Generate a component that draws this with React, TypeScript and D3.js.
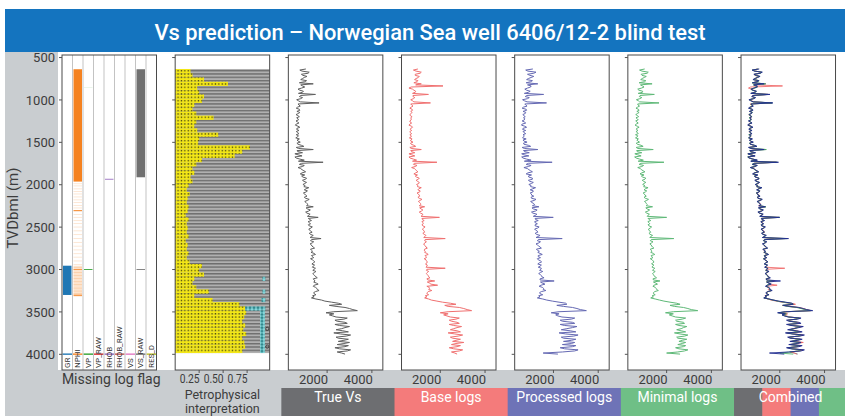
import React from "react";
import * as d3 from "d3";

const TITLE = "Vs prediction – Norwegian Sea well 6406/12-2 blind test";

// Vs logs: samples every 25 m from 635 m TVDbml, plus the in-between samples (+12.5 m)
const VS_TOP = 635;
const VS_STEP = 25;

const TRUE_VS = [
  1050, 880, 1150, 920, 980, 820, 1000, 1380, 900, 860,
  780, 900, 1480, 760, 820, 720, 1640, 740, 680, 760,
  650, 720, 690, 640, 720, 680, 620, 700, 650, 740,
  690, 620, 680, 760, 700, 650, 850, 620, 1380, 700,
  560, 880, 620, 980, 1820, 760, 900, 820, 960, 880,
  1000, 920, 1040, 960, 1000, 1020, 1180, 980, 1060, 1000,
  1100, 1040, 1120, 1060, 1150, 1380, 1120, 1180, 1100, 1180,
  1600, 1220, 1150, 1260, 1200, 1280, 1220, 1330, 1250, 1300,
  1730, 1260, 1340, 1300, 1380, 1260, 1350, 1420, 1300, 1400,
  1340, 1450, 1320, 1380, 1480, 1360, 1440, 1400, 1500, 1380,
  1460, 1520, 1420, 1480, 1560, 1480, 1420, 1350, 1300, 1750,
  2200, 2650, 2400, 3000, 3350, 1950, 2100, 2400, 2750, 2450,
  2900, 2550, 2800, 2400, 2950, 2600, 2850, 2500, 2750, 3000,
  2450, 2800, 2550, 2900, 2650,
];
const TRUE_MID = [
  780, 1200, 850, 1100, 900, 1080, 760, 820, 1000, 700,
  940, 720, 820, 900, 640, 800, 700, 800, 620, 780,
  780, 610, 760, 700, 610, 740, 580, 780, 640, 620,
  740, 720, 600, 660, 800, 700, 960, 720, 650, 900,
  700, 560, 780, 720, 860, 980, 700, 880, 1040, 800,
  860, 1080, 900, 1080, 920, 960, 1060, 1120, 940, 1040,
  980, 1200, 1000, 1100, 1080, 1060, 1250, 1040, 1240, 1120,
  1160, 1300, 1200, 1160, 1340, 1180, 1260, 1200, 1380, 1240,
  1300, 1400, 1240, 1320, 1440, 1300, 1280, 1480, 1340, 1260,
  1400, 1380, 1440, 1340, 1420, 1500, 1360, 1440, 1560, 1420,
  1400, 1600, 1380, 1540, 1640, 1400, 1500, 1420, 1500, 1900,
  2500, 2100, 2800, 3150, 2300, 2300, 2250, 2900, 2350, 2800,
  2350, 3000, 2650, 2700, 2300, 3050, 2400, 2950, 2500, 2750,
  2950, 2350, 3050, 2450, 2800,
];

const BASE_VS = [
  1000, 920, 1100, 880, 1020, 850, 960, 1150, 2120, 600,
  820, 880, 1470, 780, 800, 760, 1560, 720, 700, 740,
  680, 700, 660, 680, 700, 650, 640, 720, 680, 720,
  660, 640, 700, 740, 680, 670, 820, 640, 1150, 720,
  600, 860, 650, 940, 1850, 800, 880, 850, 940, 900,
  980, 940, 1020, 980, 1040, 1000, 1150, 1000, 1080, 1020,
  1080, 1060, 1100, 1080, 1130, 1300, 1140, 1160, 1120, 1200,
  1960, 1200, 1180, 1240, 1220, 1260, 1240, 1300, 1280, 1320,
  2220, 1300, 1320, 1280, 1360, 1300, 1330, 1400, 1320, 1380,
  1360, 1420, 1340, 1400, 2220, 1380, 1420, 1420, 1480, 1400,
  1750, 1520, 1880, 1500, 1480, 1460, 1400, 1330, 1300, 1600,
  2100, 2700, 2350, 3050, 3400, 2000, 2150, 2450, 2700, 2500,
  2850, 2600, 2750, 2450, 2900, 2650, 2800, 2550, 2700, 3050,
  2500, 2750, 2600, 2850, 2650,
];
const BASE_MID = [
  800, 1150, 880, 1060, 920, 1000, 820, 900, 700, 760,
  900, 760, 780, 860, 680, 820, 680, 780, 640, 760,
  740, 640, 740, 700, 640, 720, 600, 760, 660, 640,
  720, 700, 620, 680, 780, 700, 900, 700, 680, 860,
  720, 600, 800, 760, 840, 960, 720, 900, 1000, 820,
  880, 1060, 920, 1060, 940, 980, 1040, 1100, 960, 1060,
  1000, 1180, 1020, 1120, 1060, 1080, 1220, 1060, 1220, 1140,
  1180, 1280, 1220, 1180, 1320, 1200, 1280, 1220, 1360, 1260,
  1320, 1380, 1260, 1340, 1420, 1280, 1300, 1460, 1360, 1280,
  1380, 1400, 1420, 1360, 1400, 1480, 1380, 1460, 1540, 1440,
  1420, 1580, 1400, 1520, 1620, 1420, 1480, 1400, 1480, 1850,
  2450, 2200, 2850, 3200, 2350, 2350, 2300, 2850, 2400, 2750,
  2400, 2950, 2600, 2750, 2350, 3000, 2450, 2900, 2550, 2700,
  2900, 2400, 3000, 2500, 2750,
];

const PROC_VS = [
  1080, 860, 1120, 950, 1000, 800, 980, 1300, 1000, 840,
  800, 880, 1560, 740, 840, 700, 1690, 760, 660, 780,
  640, 740, 680, 660, 700, 700, 600, 720, 640, 760,
  680, 640, 660, 780, 680, 660, 880, 600, 1300, 720,
  580, 900, 640, 1000, 1940, 780, 880, 840, 980, 860,
  1020, 900, 1060, 940, 1020, 1000, 1200, 960, 1080, 1020,
  1120, 1020, 1140, 1040, 1160, 1350, 1100, 1200, 1080, 1200,
  1990, 1200, 1160, 1280, 1180, 1300, 1200, 1300, 1240, 1320,
  2390, 1280, 1360, 1280, 1400, 1240, 1370, 1400, 1320, 1420,
  1320, 1470, 1300, 1400, 1460, 1380, 1420, 1420, 1480, 1400,
  2030, 1500, 1440, 1500, 1540, 1460, 1400, 1340, 1280, 1700,
  2250, 2600, 2450, 3050, 3470, 1900, 2100, 2380, 2800, 2400,
  2950, 2500, 2850, 2350, 3000, 2550, 2900, 2450, 2800, 2950,
  2400, 2850, 2500, 2950, 1540,
];
const PROC_MID = [
  760, 1220, 840, 1120, 880, 1060, 780, 840, 980, 720,
  960, 700, 800, 920, 620, 820, 720, 820, 600, 800,
  760, 630, 740, 720, 600, 760, 570, 800, 620, 640,
  760, 700, 620, 640, 820, 680, 980, 700, 660, 920,
  680, 580, 800, 700, 880, 1000, 680, 900, 1060, 780,
  880, 1060, 880, 1100, 900, 980, 1080, 1100, 960, 1020,
  1000, 1220, 980, 1120, 1060, 1040, 1270, 1020, 1260, 1100,
  1180, 1320, 1180, 1180, 1360, 1160, 1280, 1180, 1400, 1220,
  1320, 1420, 1220, 1340, 1460, 1280, 1300, 1500, 1320, 1280,
  1420, 1360, 1460, 1320, 1440, 1520, 1340, 1460, 1580, 1400,
  1420, 1620, 1360, 1560, 1660, 1380, 1520, 1400, 1520, 1950,
  2550, 2150, 2850, 3200, 2250, 2250, 2200, 2950, 2300, 2850,
  2300, 3050, 2600, 2750, 2250, 3100, 2350, 3000, 2450, 2800,
  3000, 2300, 3100, 2400, 2200,
];

const MIN_VS = [
  1020, 900, 1130, 900, 1000, 840, 1020, 1350, 920, 880,
  760, 920, 1450, 780, 800, 740, 1660, 720, 700, 740,
  670, 700, 700, 630, 730, 670, 640, 690, 660, 720,
  700, 610, 690, 740, 710, 640, 860, 640, 1400, 690,
  580, 860, 640, 960, 1880, 770, 890, 830, 950, 890,
  990, 930, 1030, 970, 990, 1030, 1170, 990, 1050, 1010,
  1090, 1050, 1110, 1070, 1140, 1370, 1130, 1170, 1110, 1170,
  2000, 1210, 1160, 1250, 1210, 1270, 1210, 1290, 1260, 1290,
  2320, 1270, 1330, 1310, 1370, 1270, 1340, 1410, 1310, 1390,
  1350, 1440, 1330, 1370, 1470, 1370, 1430, 1410, 1490, 1390,
  1700, 1510, 1430, 1490, 1550, 1470, 1410, 1350, 1290, 1680,
  2150, 2600, 2350, 2950, 3390, 1950, 2120, 2400, 2700, 2450,
  2800, 2550, 2750, 2450, 2850, 2600, 2800, 2500, 2700, 2850,
  2500, 2750, 2550, 2800, 2000,
];
const MIN_MID = [
  790, 1180, 860, 1090, 910, 1070, 770, 830, 990, 710,
  930, 730, 810, 890, 650, 790, 710, 790, 630, 770,
  770, 620, 750, 690, 620, 730, 590, 770, 650, 630,
  730, 710, 610, 670, 790, 690, 950, 710, 660, 890,
  710, 570, 790, 730, 850, 970, 710, 870, 1030, 810,
  870, 1070, 910, 1070, 930, 970, 1050, 1110, 950, 1030,
  990, 1190, 1010, 1090, 1090, 1070, 1240, 1050, 1230, 1130,
  1170, 1290, 1210, 1170, 1330, 1190, 1250, 1210, 1370, 1250,
  1310, 1390, 1250, 1330, 1430, 1310, 1290, 1470, 1330, 1270,
  1390, 1370, 1430, 1350, 1410, 1490, 1370, 1430, 1550, 1410,
  1410, 1590, 1390, 1530, 1630, 1410, 1490, 1410, 1490, 1880,
  2450, 2150, 2750, 3100, 2300, 2300, 2250, 2850, 2400, 2750,
  2400, 2900, 2650, 2650, 2350, 2950, 2450, 2900, 2550, 2700,
  2850, 2400, 2950, 2500, 2600,
];

// petrophysical interpretation: sand fraction per 50 m row from 635 m
const LITH_TOP = 635;
const LITH_STEP = 50;
const SAND = [
  0.16, 0.18, 0.3, 0.55, 0.23, 0.25, 0.3, 0.28, 0.2, 0.18,
  0.22, 0.4, 0.22, 0.2, 0.23, 0.45, 0.25, 0.24, 0.78, 0.7,
  0.62, 0.28, 0.22, 0.18, 0.2, 0.16, 0.18, 0.14, 0.12, 0.15,
  0.13, 0.12, 0.14, 0.13, 0.11, 0.14, 0.12, 0.13, 0.12, 0.14,
  0.11, 0.13, 0.12, 0.14, 0.12, 0.15, 0.28, 0.25, 0.3, 0.2,
  0.18, 0.22, 0.35, 0.2, 0.39, 0.67, 0.73, 0.74, 0.72, 0.7,
  0.73, 0.71, 0.74, 0.7, 0.72, 0.73, 0.7,
];
// [top, base, from, to] carbonate intervals
const CARBONATE = [
  [3085, 3135, 0.91, 0.94],
  [3235, 3285, 0.91, 0.94],
  [3335, 3385, 0.9, 0.94],
  [3435, 3485, 0.73, 0.94],
  [3485, 3985, 0.885, 0.935],
];
const PETRO_MARKS = [
  [0.96, 3700],
  [0.96, 3910],
];

const LOG_NAMES = ["GR", "NPHI", "VP", "VP_RAW", "RHOB", "RHOB_RAW", "VS", "VS_RAW", "RES_D"];
const LOG_COLORS = ["#1f77b4", "#f58220", "#2ca02c", "#d62728", "#9467bd", "#c0504d", "#e377c2", "#707070", "#bcbd22"];
// [log, top, base, opacity]
const MISSING = [
  [0, 2955, 3300, 1],
  [1, 638, 1963, 1],
  [1, 2955, 3300, 0.22],
  [1, 2300, 2312, 1],
  [1, 2994, 3004, 0.9],
  [1, 3296, 3314, 0.8],
  [2, 850, 858, 0.15],
  [2, 2994, 3004, 1],
  [4, 1930, 1940, 1],
  [7, 638, 1912, 1],
  [7, 2994, 3004, 1],
];
const NPHI_STREAKS = [
  1985, 2010, 2045, 2075, 2105, 2140, 2175, 2205, 2240, 2270, 2345, 2380,
  2420, 2455, 2495, 2540, 2585, 2630, 2675, 2720, 2765, 2810, 2850, 2895,
  2935, 2975, 3030, 3065, 3100, 3140, 3175, 3215, 3250, 3280,
];
const END_FLAG = [3990, 4006];

const DEPTH_TICKS = [500, 1000, 1500, 2000, 2500, 3000, 3500, 4000];
const VS_TICKS = [2000, 4000];
const PETRO_TICKS = [0.25, 0.5, 0.75];

const PANEL_NAMES = ["True Vs", "Base logs", "Processed logs", "Minimal logs", "Combined"];
const BAND_COLORS = ["#6d6e71", "#f47b7b", "#6e73b7", "#6fbf86"];
const LINE_COLORS = ["#5f5f5f", "#f07070", "#6569b3", "#5fb978"];
const COMBINED_COLORS = ["#6d6d6d", "#f06666", "#1f2b8f", "#4caf66"];
const SERIES = [
  [TRUE_VS, TRUE_MID],
  [BASE_VS, BASE_MID],
  [PROC_VS, PROC_MID],
  [MIN_VS, MIN_MID],
];

const PANEL_X0 = 62;
const PANEL_STEP = 113.17;
const PANEL_W = 94.5;
const TOP = 55;
const BOTTOM = 370;
const FONT = "Roboto, 'DejaVu Sans', sans-serif";
const GREY_BG = "#c9cdd0";
const TEXT = "#3c3c3c";

export default function App() {
  const y = d3.scaleLinear().domain([470, 4185]).range([TOP, BOTTOM]);
  const left = (p: number) => PANEL_X0 + p * PANEL_STEP;
  const vsX = (p: number) =>
    d3.scaleLinear().domain([267, 4490]).range([left(p), left(p) + PANEL_W]);
  const petroX = d3.scaleLinear().domain([0, 0.985]).range([left(1), left(1) + PANEL_W]);
  const colW = PANEL_W / LOG_NAMES.length;
  const colX = (k: number) => left(0) + k * colW;

  // sample + in-between sample, in depth order
  const samples = ([main, mid]: number[][]) =>
    main.flatMap((v, i) => [
      [v, VS_TOP + i * VS_STEP],
      [mid[i], VS_TOP + i * VS_STEP + VS_STEP / 2],
    ]);
  const line = (sx: d3.ScaleLinear<number, number>) =>
    d3
      .line<number[]>()
      .x((d) => sx(d[0]))
      .y((d) => y(d[1]));

  const lithEnd = LITH_TOP + SAND.length * LITH_STEP;

  return (
    <svg
      width={845}
      height={416}
      style={{ position: "absolute", left: 0, top: 0, fontFamily: FONT }}
    >
      <defs>
        <pattern id="shale" width="4" height="3.33" patternUnits="userSpaceOnUse">
          <rect width="4" height="3.33" fill="#b0b0b0" />
          <rect width="4" height="1.4" fill="#6e6e6e" />
        </pattern>
        <pattern id="sand" width="3.4" height="3.33" patternUnits="userSpaceOnUse">
          <rect width="3.4" height="3.33" fill="#f3e717" />
          <rect x="0.6" y="0.1" width="1.3" height="1.3" fill="#3b3a12" />
        </pattern>
        <pattern id="carb" width="4" height="3.33" patternUnits="userSpaceOnUse">
          <rect width="4" height="3.33" fill="#86d8dc" />
          <rect x="1.5" y="0" width="1" height="3" fill="#237b80" />
          <rect x="0.5" y="1" width="3" height="1" fill="#237b80" />
        </pattern>
      </defs>

      <rect x={0} y={0} width={845} height={416} fill="#ffffff" />
      {/* title */}
      <rect x={5} y={9} width={840} height={43} fill="#1474bf" />
      <text
        x={430}
        y={40}
        textAnchor="middle"
        fill="#ffffff"
        fontSize={22}
        fontWeight={500}
        textLength={551}
        lengthAdjust="spacingAndGlyphs"
      >
        {TITLE}
      </text>

      {/* grey frames */}
      <rect x={5} y={52} width={53} height={364} fill={GREY_BG} />
      <rect x={58} y={BOTTOM} width={787} height={46} fill={GREY_BG} />

      {/* depth axis */}
      {DEPTH_TICKS.map((d) => (
        <text key={d} x={55} y={y(d)} dy="0.36em" textAnchor="end" fontSize={13} fill={TEXT}>
          {d}
        </text>
      ))}
      <text
        transform={`translate(18,208) rotate(-90)`}
        textAnchor="middle"
        fontSize={15}
        fill={TEXT}
      >
        TVDbml (m)
      </text>

      {/* missing log flag panel */}
      <rect x={left(0)} y={TOP} width={PANEL_W} height={BOTTOM - TOP} fill="#ffffff" />
      {NPHI_STREAKS.map((d) => (
        <rect
          key={"n" + d}
          x={colX(1) + 1}
          y={y(d)}
          width={colW - 2}
          height={y(d + 8) - y(d)}
          fill={LOG_COLORS[1]}
          opacity={0.28}
        />
      ))}
      {MISSING.map(([k, t, b, o], i) => (
        <rect
          key={"m" + i}
          x={colX(k) + 1}
          y={y(t)}
          width={colW - 2}
          height={y(b) - y(t)}
          fill={LOG_COLORS[k]}
          opacity={o}
        />
      ))}
      {LOG_NAMES.map((n, k) => (
        <rect
          key={"e" + n}
          x={colX(k) + 0.5}
          y={y(END_FLAG[0])}
          width={colW - 1}
          height={y(END_FLAG[1]) - y(END_FLAG[0])}
          fill={LOG_COLORS[k]}
        />
      ))}
      {LOG_NAMES.slice(1).map((n, k) => (
        <line
          key={"s" + n}
          x1={colX(k + 1)}
          x2={colX(k + 1)}
          y1={TOP}
          y2={BOTTOM}
          stroke="#b4b4b4"
          strokeWidth={0.8}
        />
      ))}
      {LOG_NAMES.map((n, k) => (
        <text
          key={"l" + n}
          transform={`translate(${colX(k) + 7.5},368) rotate(-90)`}
          fontSize={8}
          fill="#333333"
        >
          {n}
        </text>
      ))}
      <text x={left(0) + PANEL_W / 2 + 2} y={384} textAnchor="middle" fontSize={14} fill={TEXT}>
        Missing log flag
      </text>

      {/* petrophysical panel */}
      <rect x={left(1)} y={TOP} width={PANEL_W} height={BOTTOM - TOP} fill="#ffffff" />
      <rect
        x={left(1)}
        y={y(LITH_TOP)}
        width={PANEL_W}
        height={y(lithEnd) - y(LITH_TOP)}
        fill="url(#shale)"
      />
      {SAND.map((s, i) => {
        const d = LITH_TOP + i * LITH_STEP;
        return (
          <rect
            key={"sd" + i}
            x={petroX(0)}
            y={y(d)}
            width={petroX(s) - petroX(0)}
            height={y(d + LITH_STEP) - y(d)}
            fill="url(#sand)"
          />
        );
      })}
      {CARBONATE.map(([t, b, f, e], i) => (
        <rect
          key={"c" + i}
          x={petroX(f)}
          y={y(t)}
          width={petroX(e) - petroX(f)}
          height={y(b) - y(t)}
          fill="url(#carb)"
        />
      ))}
      {PETRO_MARKS.map(([f, d], i) => (
        <circle key={"pm" + i} cx={petroX(f)} cy={y(d)} r={1.6} fill="none" stroke="#333" strokeWidth={0.8} />
      ))}
      {PETRO_TICKS.map((t) => (
        <g key={"pt" + t}>
          <line x1={petroX(t)} x2={petroX(t)} y1={BOTTOM} y2={BOTTOM + 3} stroke="#555" />
          <text
            x={petroX(t) + 0.5}
            y={383}
            textAnchor="end"
            fontSize={12}
            fill={TEXT}
            textLength={20}
            lengthAdjust="spacingAndGlyphs"
          >
            {t.toFixed(2)}
          </text>
        </g>
      ))}
      <text x={left(1) + PANEL_W / 2} y={399} textAnchor="middle" fontSize={12.5} fill={TEXT}>
        Petrophysical
      </text>
      <text x={left(1) + PANEL_W / 2} y={413} textAnchor="middle" fontSize={12.5} fill={TEXT}>
        interpretation
      </text>

      {/* Vs panels */}
      {PANEL_NAMES.map((name, j) => {
        const p = j + 2;
        const sx = vsX(p);
        const bandX = left(p) - 7;
        const isCombined = j === 4;
        return (
          <g key={name}>
            <rect x={left(p)} y={TOP} width={PANEL_W} height={BOTTOM - TOP} fill="#ffffff" />
            {isCombined ? (
              [0, 1, 3, 2].map((s) => (
                <path
                  key={"cl" + s}
                  d={line(sx)(samples(SERIES[s])) || ""}
                  fill="none"
                  stroke={COMBINED_COLORS[s]}
                  strokeWidth={1}
                  strokeOpacity={s === 2 ? 0.9 : 0.85}
                />
              ))
            ) : (
              <path
                d={line(sx)(samples(SERIES[j])) || ""}
                fill="none"
                stroke={LINE_COLORS[j]}
                strokeWidth={1}
              />
            )}
            {VS_TICKS.map((t) => (
              <g key={"vt" + t}>
                <line x1={sx(t)} x2={sx(t)} y1={BOTTOM} y2={BOTTOM + 3} stroke="#555" />
                <text x={sx(t) + 1} y={384} textAnchor="end" fontSize={13} fill={TEXT}>
                  {t}
                </text>
              </g>
            ))}
            {isCombined ? (
              BAND_COLORS.map((c, k) => (
                <rect
                  key={"b" + k}
                  x={bandX + k * (PANEL_STEP / 4)}
                  y={388}
                  width={PANEL_STEP / 4 + 0.5}
                  height={28}
                  fill={c}
                />
              ))
            ) : (
              <rect x={bandX} y={388} width={PANEL_STEP + 0.5} height={28} fill={BAND_COLORS[j]} />
            )}
            <text x={bandX + PANEL_STEP / 2} y={402} textAnchor="middle" fontSize={14} fill="#ffffff">
              {name}
            </text>
          </g>
        );
      })}

      {/* panel frames and depth ticks */}
      {d3.range(7).map((p) => (
        <g key={"f" + p}>
          <rect
            x={left(p)}
            y={TOP}
            width={PANEL_W}
            height={BOTTOM - TOP}
            fill="none"
            stroke="#4a4a4a"
            strokeWidth={1}
          />
          {DEPTH_TICKS.map((d) => (
            <line key={d} x1={left(p) - 3} x2={left(p)} y1={y(d)} y2={y(d)} stroke="#555" />
          ))}
        </g>
      ))}
    </svg>
  );
}
